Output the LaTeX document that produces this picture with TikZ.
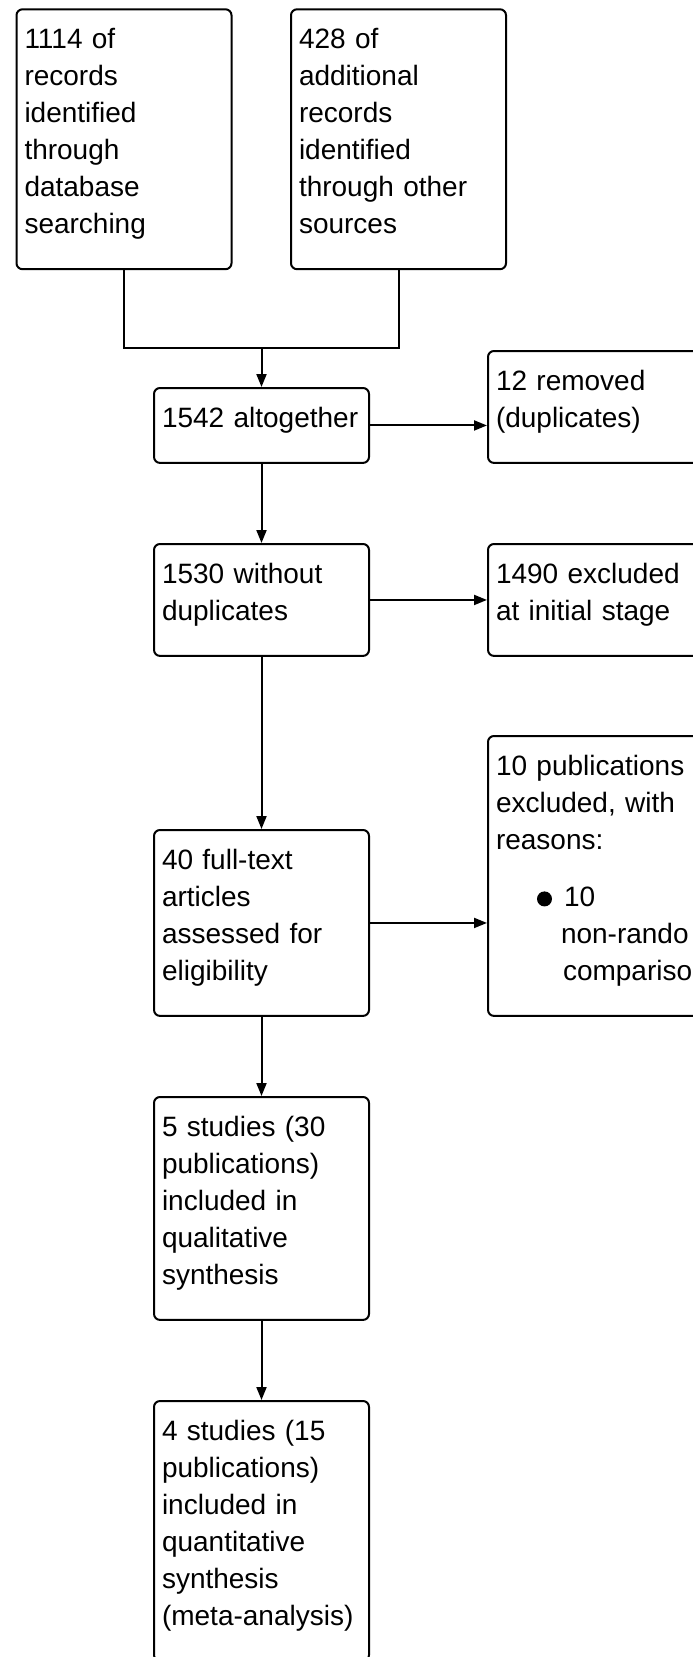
\documentclass[tikz,border=0pt]{standalone}
\usepackage{fontspec}
\setmainfont{Liberation Sans}
\usepackage{tikz}
\usetikzlibrary{arrows.meta, positioning, calc}

\tikzset{
  flowbox/.style={draw, line width=2pt, rounded corners=6pt, anchor=north west,
    text width=199pt, inner xsep=8pt, inner ysep=13.5pt, align=left,
    font=\fontsize{28}{37}\selectfont,
    execute at begin node=\strut,
    execute at end node={\rule[-22pt]{0pt}{1pt}}},
  flowarrow/.style={-{Triangle[length=13pt,width=10pt]}, line width=2pt},
  flowline/.style={line width=2pt}
}

\begin{document}
\begin{tikzpicture}[x=1pt, y=-1pt]
  \useasboundingbox (0,0) rectangle (693,1657);

  % Sources
  \node[flowbox] (records) at (15.5,8.3) {1114 of\\records\\identified\\through\\database\\searching};
  \node[flowbox] (other) at (290,8.3) {428 of\\additional\\records\\identified\\through other\\sources};

  % Main column
  \node[flowbox] (total) at (153,387) {1542 altogether};
  \node[flowbox] (nodup) at (153,543) {1530 without\\duplicates};
  \node[flowbox] (fulltext) at (153,829) {40 full-text\\articles\\assessed for\\eligibility};
  \node[flowbox] (qual) at (153,1096) {5 studies (30\\publications)\\included in\\qualitative\\synthesis};
  \node[flowbox] (quant) at (153,1400) {4 studies (15\\publications)\\included in\\quantitative\\synthesis\\(meta-analysis)};

  % Side column
  \node[flowbox] (removed) at (487,350) {12 removed\\(duplicates)};
  \node[flowbox] (excl) at (487,543) {1490 excluded\\at initial stage};
  \node[flowbox] (pubexcl) at (487,735) {10 publications\\excluded, with\\reasons:\\[20pt]%
    \hspace*{41pt}\tikz\fill circle (7.5pt);\hspace{12pt}10\\%
    \hspace*{65pt}non-rando\\%
    \hspace*{67pt}compariso};

  % Merge of the two sources
  \coordinate (join) at ($(total.north)+(0,-39)$);
  \draw[flowline] (records.south) |- (join) -| (other.south);
  \draw[flowarrow] (join) -- (total.north);

  % Down the main column
  \draw[flowarrow] (total.south) -- (nodup.north);
  \draw[flowarrow] (nodup.south) -- (fulltext.north);
  \draw[flowarrow] (fulltext.south) -- (qual.north);
  \draw[flowarrow] (qual.south) -- (quant.north);

  % To the side
  \draw[flowarrow] (total.east) -- (removed.west |- total.east);
  \draw[flowarrow] (nodup.east) -- (excl.west |- nodup.east);
  \draw[flowarrow] (fulltext.east) -- (pubexcl.west |- fulltext.east);
\end{tikzpicture}
\end{document}
